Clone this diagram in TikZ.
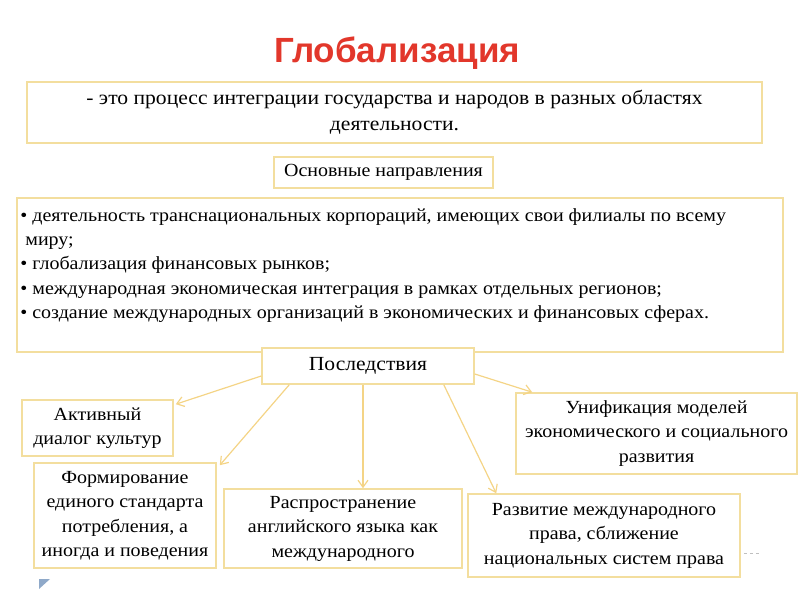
\documentclass[tikz,border=0pt]{standalone}
\usepackage{fontspec}
\setmainfont[FakeStretch=1.08]{Liberation Serif}
\newfontfamily\titlefont{Liberation Sans}
\usetikzlibrary{arrows.meta}
\definecolor{ramka}{HTML}{F3DE9E}
\definecolor{strelka}{HTML}{F4D486}
\definecolor{zagolovok}{HTML}{E2372B}
\definecolor{ugol}{HTML}{8FA9C9}

\begin{document}
\begin{tikzpicture}[x=1pt,y=-1pt,
  box/.style={draw=ramka, line width=1.6pt, fill=white, inner sep=3pt, align=center,
    font=\fontsize{18.5}{24.5}\selectfont},
  arr/.style={draw=strelka, line width=1.2pt, -{Straight Barb[length=7pt,width=10pt]}}]
  \useasboundingbox (0,0) rectangle (800,600);

  % Заголовок
  \node (title) at (397,53) {\titlefont\bfseries\fontsize{35}{38}\selectfont\color{zagolovok}Глобализация};

  % Определение
  \node[box, minimum width=735pt, minimum height=61pt, font=\fontsize{20}{26}\selectfont] (def) at (394.5,112.5)
    {- это процесс интеграции государства и народов в разных областях\\ деятельности.};

  % Основные направления
  \node[box, minimum width=219pt, minimum height=31pt] (napr) at (383.5,172.5) {Основные направления};

  % Список направлений
  \node[box, minimum width=766pt, minimum height=154pt] (spisok) at (400,275) {};
  \node[anchor=north west, align=left, inner sep=0pt, font=\fontsize{18.5}{24.3}\selectfont] (spisoktext)
    at ([shift={(4pt,-11pt)}]spisok.north west)
    {• деятельность транснациональных корпораций, имеющих свои филиалы по всему\\
     \hspace*{5pt}миру;\\
     • глобализация финансовых рынков;\\
     • международная экономическая интеграция в рамках отдельных регионов;\\
     • создание международных организаций в экономических и финансовых сферах.};

  % Последствия
  \node[box, minimum width=212pt, minimum height=36pt, font=\fontsize{20}{24}\selectfont] (posl) at (368,366) {Последствия};

  \node[box, minimum width=151pt, minimum height=56pt] (akt) at (97.5,428) {Активный\\ диалог культур};
  \node[box, minimum width=182pt, minimum height=105pt] (form) at (125,515.5)
    {Формирование\\ единого стандарта\\ потребления, а\\ иногда и поведения};
  \node[box, minimum width=238pt, minimum height=79pt] (rasp) at (343,528.5)
    {Распространение\\ английского языка как\\ международного};
  \node[box, minimum width=272pt, minimum height=83pt] (razv) at (604,535.5)
    {Развитие международного\\ права, сближение\\ национальных систем права};
  \node[box, minimum width=281pt, minimum height=81pt] (unif) at (656.5,433.5)
    {Унификация моделей\\ экономического и социального\\ развития};

  % Стрелки
  \draw[arr] ([yshift=-10pt]posl.west) -- ([shift={(2pt,-5pt)}]akt.north east);
  \draw[arr] ([xshift=28pt]posl.south west) -- ([shift={(3pt,-3pt)}]form.north east);
  \draw[arr] ([xshift=-5pt]posl.south) -- ([xshift=-5pt]posl.south |- rasp.north);
  \draw[arr] ([xshift=-31pt]posl.south east) -- ([xshift=29pt]razv.north west);
  \draw[arr] ([yshift=-8pt]posl.east) -- ([xshift=17pt]unif.north west);

  % Мелкие элементы слайда
  \draw[gray!50, dashed, line width=0.8pt] ([xshift=3pt,yshift=-18pt]razv.east) -- +(18pt,0);
  \fill[ugol] (39,579) -- (50,579) -- (39,589) -- cycle;
\end{tikzpicture}
\end{document}
